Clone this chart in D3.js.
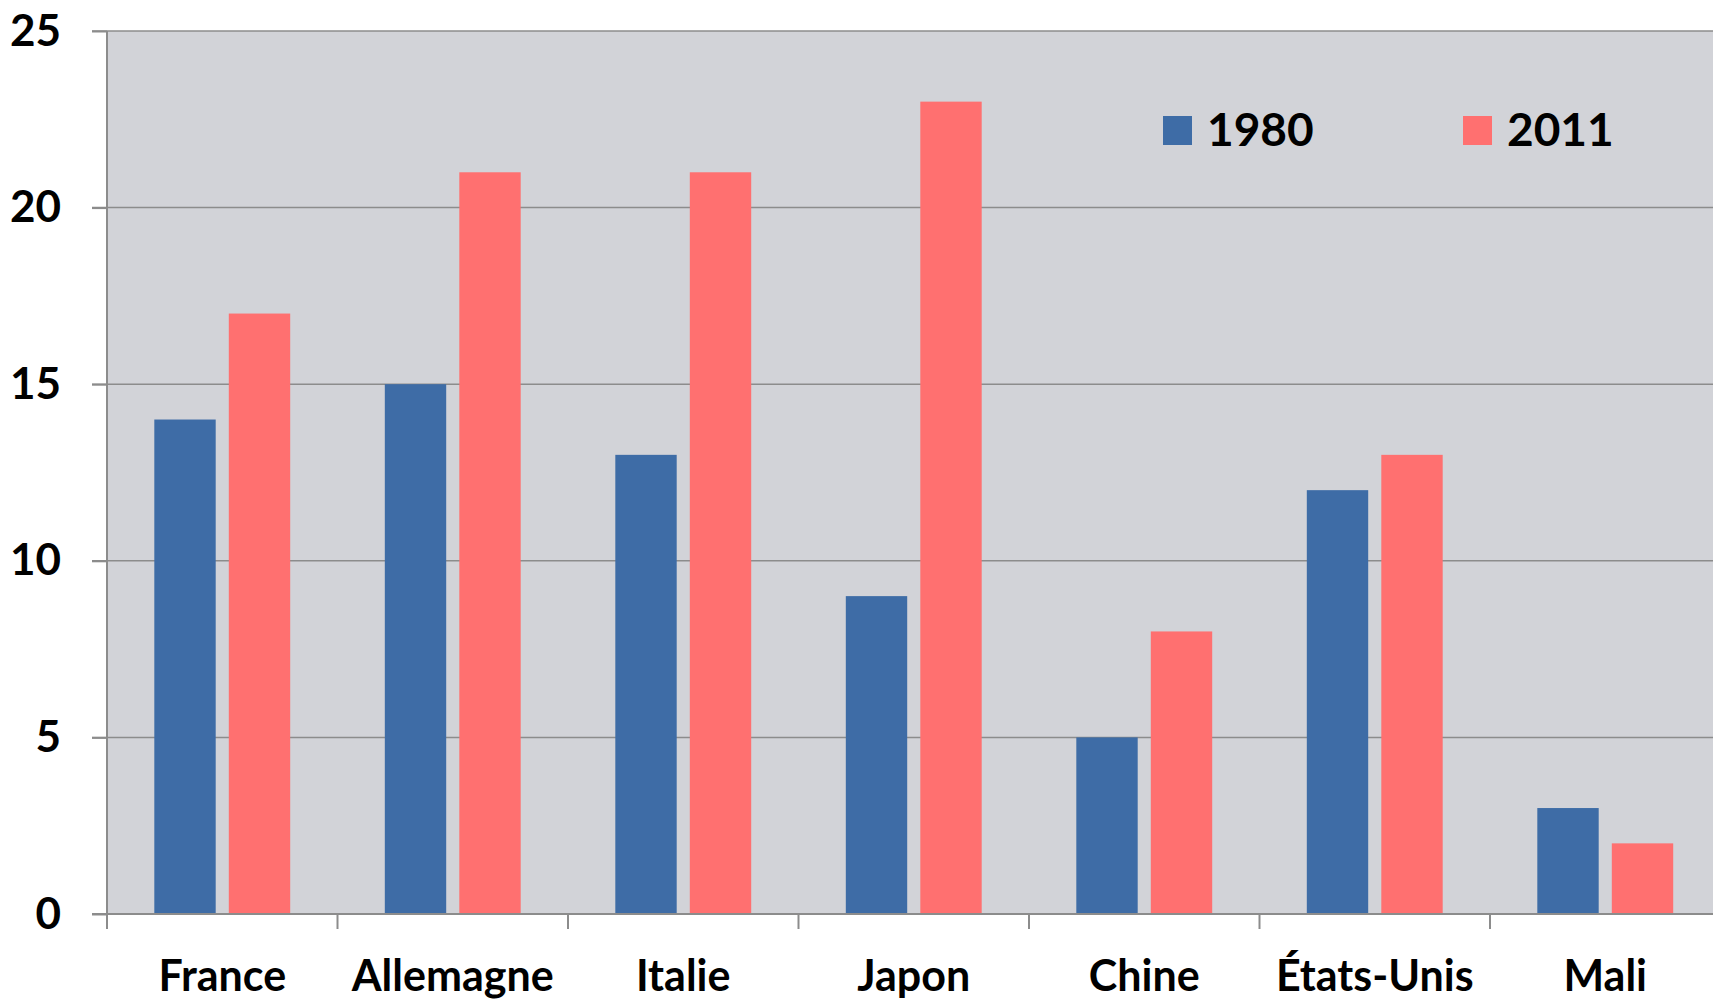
<!DOCTYPE html>
<html>
<head>
    <meta charset="utf-8">
    <title>1980 / 2011</title>
    <script src="https://d3js.org/d3.v7.min.js"></script>
    <style>
        body { margin: 0; background: #fff; overflow: hidden; }
        svg { display: block; }
        text { font-family: Lato, "Open Sans", sans-serif; font-weight: bold; fill: #000; }
        .grid line { stroke: #8c8c8c; stroke-width: 1.5px; }
        .axis path, .axis line { stroke: #8c8c8c; stroke-width: 2px; }
    </style>
</head>
<body>
    <svg></svg>
    <script>
        // Données
        const categories = ["France", "Allemagne", "Italie", "Japon", "Chine", "États-Unis", "Mali"];
        const series = ["1980", "2011"];
        const values1980 = [14, 15, 13, 9, 5, 12, 3];
        const values2011 = [17, 21, 21, 23, 8, 13, 2];
        const yTicks = [0, 5, 10, 15, 20, 25];
        const colors = ["#3e6ca6", "#ff7070"];

        const width = 1713;
        const height = 1000;
        const margin = { top: 31, left: 107, bottom: 86 };
        const band = 230.5;

        const svg = d3.select("svg")
            .attr("width", width)
            .attr("height", height);

        const x = d3.scaleBand()
            .domain(categories)
            .range([margin.left, margin.left + band * categories.length]);

        const xSub = d3.scaleBand()
            .domain(series)
            .range([0, x.bandwidth()])
            .paddingInner(0.176)
            .paddingOuter(0.635);

        const y = d3.scaleLinear()
            .domain([0, 25])
            .range([height - margin.bottom, margin.top]);

        // Fond de la zone de tracé
        svg.append("rect")
            .attr("x", margin.left)
            .attr("y", y(25))
            .attr("width", width - margin.left)
            .attr("height", y(0) - y(25))
            .attr("fill", "#d2d3d8");

        // Grille horizontale
        svg.append("g")
            .attr("class", "grid")
            .selectAll("line")
            .data(yTicks.filter(d => d > 0))
            .join("line")
            .attr("x1", margin.left - 15)
            .attr("x2", width)
            .attr("y1", d => y(d))
            .attr("y2", d => y(d));

        // Barres
        const rows = categories.map((c, i) => ({ cat: c, vals: [values1980[i], values2011[i]] }));

        svg.append("g")
            .selectAll("g")
            .data(rows)
            .join("g")
            .attr("transform", d => `translate(${x(d.cat)},0)`)
            .selectAll("rect")
            .data(d => d.vals.map((v, j) => ({ key: series[j], v, j })))
            .join("rect")
            .attr("x", d => xSub(d.key))
            .attr("width", xSub.bandwidth())
            .attr("y", d => y(d.v))
            .attr("height", d => y(0) - y(d.v))
            .attr("fill", d => colors[d.j]);

        // Axe Y
        const yAxis = svg.append("g")
            .attr("class", "axis")
            .attr("transform", `translate(${margin.left},0)`)
            .call(d3.axisLeft(y).tickValues(yTicks).tickSize(15).tickPadding(31))
            .call(g => g.select(".domain").attr("d", `M0,${y(25)}V${y(0)}`));
        yAxis.selectAll("text").style("font-size", "44px").attr("fill", "#000");

        // Axe X
        const xTicks = d3.range(categories.length + 1).map(i => margin.left + i * band);
        svg.append("g")
            .attr("class", "axis")
            .call(g => g.append("line")
                .attr("x1", margin.left - 15).attr("x2", width)
                .attr("y1", y(0)).attr("y2", y(0)))
            .selectAll(".tk")
            .data(xTicks)
            .join("line")
            .attr("class", "tk")
            .attr("x1", d => d).attr("x2", d => d)
            .attr("y1", y(0)).attr("y2", y(0) + 15);

        svg.append("g")
            .selectAll("text")
            .data(categories)
            .join("text")
            .attr("x", d => x(d) + x.bandwidth() / 2)
            .attr("y", y(0) + 77)
            .attr("text-anchor", "middle")
            .style("font-size", "43px")
            .text(d => d);

        // Légende
        const legendX = [1163, 1463];
        const legend = svg.append("g")
            .selectAll("g")
            .data(series)
            .join("g")
            .attr("transform", (d, i) => `translate(${legendX[i]},116)`);

        legend.append("rect")
            .attr("width", 29)
            .attr("height", 29)
            .attr("fill", (d, i) => colors[i]);

        legend.append("text")
            .attr("x", 44)
            .attr("y", 30)
            .style("font-size", "46px")
            .text(d => d);
    </script>
</body>
</html>
